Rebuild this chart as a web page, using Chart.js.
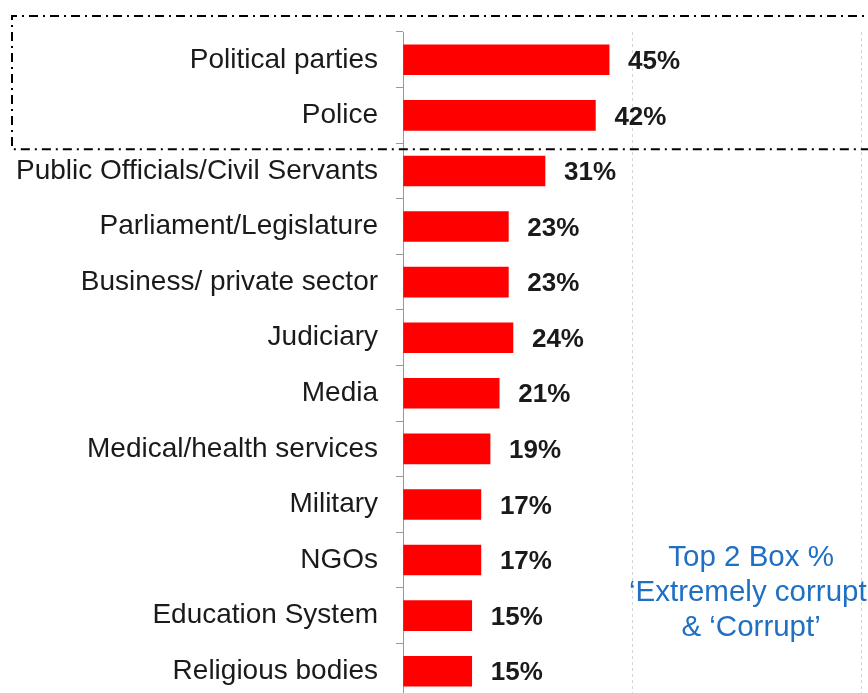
<!DOCTYPE html>
<html>
<head>
<meta charset="utf-8">
<script src="https://cdn.jsdelivr.net/npm/chart.js@4.4.1/dist/chart.umd.min.js"></script>
<style>
    html, body { margin: 0; padding: 0; background: #fff; overflow: hidden; }
    canvas { display: block; }
</style>
</head>
<body>
<canvas id="corruption-chart" width="868" height="731"></canvas>
<script>
    const institutions = [
        'Political parties', 'Police', 'Public Officials/Civil Servants', 'Parliament/Legislature',
        'Business/ private sector', 'Judiciary', 'Media', 'Medical/health services',
        'Military', 'NGOs', 'Education System', 'Religious bodies'
    ];
    const top2Box = [45, 42, 31, 23, 23, 24, 21, 19, 17, 17, 15, 15];
    const noteLines = ['Top 2 Box %', '\u2018Extremely corrupt\u2019', '& \u2018Corrupt\u2019'];
    const highlightedRows = 2;  // first rows get the dash-dot frame

    // bold % labels just past the end of each bar
    const valueLabels = {
        id: 'valueLabels',
        afterDatasetsDraw(chart) {
            const ctx = chart.ctx;
            const meta = chart.getDatasetMeta(0);
            ctx.save();
            ctx.font = 'bold 26px "Liberation Sans", Arial, sans-serif';
            ctx.fillStyle = '#1a1a1a';
            ctx.textBaseline = 'middle';
            meta.data.forEach((bar, i) => {
                ctx.fillText(top2Box[i] + '%', bar.x + 19, bar.y + 2);
            });
            ctx.restore();
        }
    };

    // dash-dot frame round the top rows, plus the blue note
    const extras = {
        id: 'extras',
        afterDraw(chart) {
            const ctx = chart.ctx;
            const y = chart.scales.y;
            const area = chart.chartArea;
            const bottom = (y.getPixelForValue(highlightedRows - 1) + y.getPixelForValue(highlightedRows)) / 2 + 6;
            const top = area.top - 16;
            ctx.save();
            ctx.strokeStyle = '#000';
            ctx.lineWidth = 2;
            ctx.setLineDash([9, 5, 2, 5]);
            ctx.beginPath();
            ctx.moveTo(chart.width + 10, top);
            ctx.lineTo(12, top);
            ctx.lineTo(12, bottom);
            ctx.lineTo(chart.width + 10, bottom);
            ctx.stroke();
            ctx.restore();

            const x = chart.scales.x;
            ctx.save();
            ctx.font = '29.5px "Liberation Sans", Arial, sans-serif';
            ctx.fillStyle = '#1f6fc2';
            ctx.textAlign = 'center';
            ctx.textBaseline = 'middle';
            const cx = x.getPixelForValue(76);
            const cy = y.getPixelForValue(9) - 2;
            noteLines.forEach((line, i) => {
                ctx.fillText(line, cx, cy + i * 35);
            });
            ctx.restore();
        }
    };

    const ctx = document.getElementById('corruption-chart').getContext('2d');
    new Chart(ctx, {
        type: 'bar',
        data: {
            labels: institutions,
            datasets: [{
                data: top2Box,
                backgroundColor: '#ff0000',
                borderWidth: 0,
                barThickness: 30
            }]
        },
        options: {
            indexAxis: 'y',
            responsive: false,
            animation: false,
            layout: { padding: { top: 27, right: 7, left: -2, bottom: 0 } },
            plugins: {
                legend: { display: false },
                tooltip: { enabled: false }
            },
            scales: {
                x: {
                    min: 0,
                    max: 100,
                    ticks: { display: false, stepSize: 50 },
                    grid: {
                        color: '#d4d4d4',
                        lineWidth: 1,
                        drawTicks: false
                    },
                    border: { display: false, dash: [3, 3] }
                },
                y: {
                    border: { display: true, color: '#999', width: 1 },
                    grid: {
                        drawOnChartArea: false,
                        color: '#999',
                        tickLength: 7,
                        offset: true
                    },
                    ticks: {
                        color: '#1a1a1a',
                        padding: 18,
                        font: { family: '"Liberation Sans", Arial, sans-serif', size: 28, lineHeight: 1 }
                    }
                }
            }
        },
        plugins: [valueLabels, extras]
    });
</script>
</body>
</html>
